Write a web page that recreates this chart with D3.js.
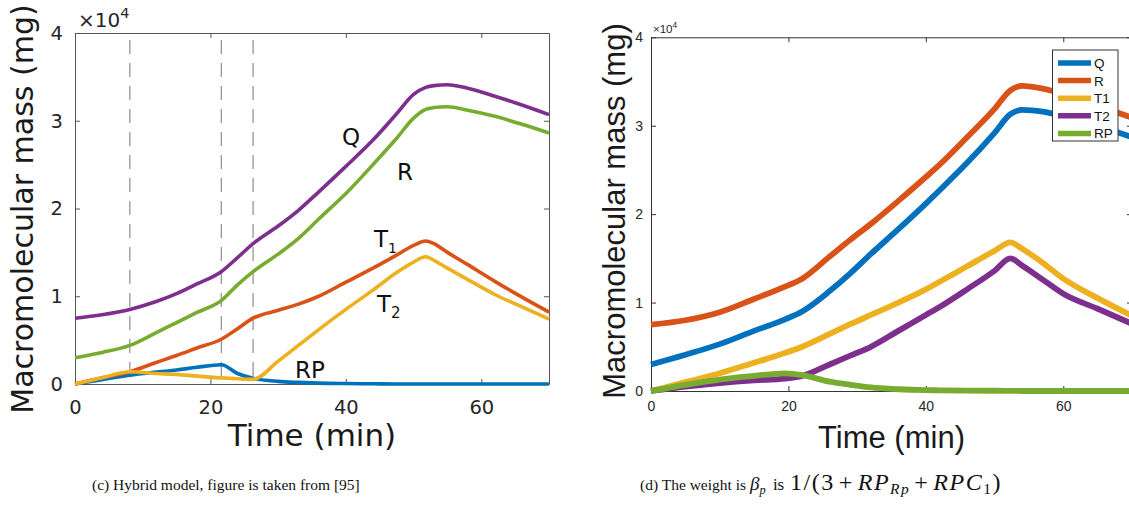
<!DOCTYPE html>
<html>
<head>
<meta charset="utf-8">
<script src="https://cdn.jsdelivr.net/npm/d3@7"></script>
<style>
  body { margin: 0; background: #fff; }
  svg { display: block; }
</style>
</head>
<body>
<svg id="chart" width="1129" height="505"></svg>
<script>
// ---- data (values in units of 1e4 mg) ----
// left panel (c): hybrid model
let leftTime = [0, 4, 8.1, 12, 15, 18, 21.6, 24, 26.3, 30, 33, 36, 40, 44, 47.5, 50, 51.8, 53, 55, 58, 62, 66, 70]
let leftQ  = [0.75, 0.79, 0.85, 0.94, 1.03, 1.14, 1.28, 1.44, 1.60, 1.80, 1.98, 2.19, 2.48, 2.78, 3.08, 3.30, 3.38, 3.40, 3.41, 3.37, 3.28, 3.18, 3.07]
let leftR  = [0.30, 0.36, 0.44, 0.585, 0.70, 0.815, 0.95, 1.13, 1.28, 1.48, 1.66, 1.88, 2.17, 2.50, 2.80, 3.03, 3.13, 3.15, 3.16, 3.12, 3.05, 2.96, 2.86]
let leftT1 = [0, 0.07, 0.14, 0.245, 0.325, 0.41, 0.51, 0.63, 0.75, 0.84, 0.91, 1.00, 1.16, 1.32, 1.47, 1.58, 1.63, 1.60, 1.50, 1.36, 1.17, 0.99, 0.82]
let leftT2 = [0, 0.07, 0.14, 0.12, 0.11, 0.09, 0.07, 0.06, 0.053, 0.26, 0.44, 0.62, 0.85, 1.07, 1.27, 1.39, 1.45, 1.41, 1.32, 1.19, 1.02, 0.88, 0.74]
let leftRP = [0, 0.05, 0.10, 0.135, 0.16, 0.19, 0.22, 0.12, 0.065, 0.03, 0.018, 0.01, 0.005, 0.002, 0, 0, 0, 0, 0, 0, 0, 0, 0]
let leftDashes = [8.1, 21.6, 26.3]

// right panel (d): weighted model
let rightTime = [0, 5, 10, 15, 19.5, 22, 26, 29, 32, 36, 40, 42, 46, 50, 52.3, 54, 57, 60, 65, 70]
let rightQ  = [0.30, 0.41, 0.53, 0.68, 0.81, 0.90, 1.13, 1.33, 1.55, 1.83, 2.12, 2.27, 2.58, 2.92, 3.13, 3.18, 3.16, 3.11, 3.00, 2.87]
let rightR  = [0.75, 0.80, 0.89, 1.04, 1.18, 1.27, 1.52, 1.71, 1.89, 2.15, 2.42, 2.56, 2.87, 3.19, 3.40, 3.45, 3.42, 3.36, 3.23, 3.09]
let rightT1 = [0, 0.10, 0.20, 0.32, 0.43, 0.50, 0.645, 0.755, 0.86, 1.00, 1.15, 1.235, 1.41, 1.585, 1.68, 1.61, 1.45, 1.27, 1.05, 0.85]
let rightT2 = [0, 0.05, 0.09, 0.12, 0.14, 0.17, 0.30, 0.40, 0.50, 0.68, 0.86, 0.95, 1.15, 1.36, 1.50, 1.42, 1.26, 1.10, 0.93, 0.76]
let rightRP = [0, 0.07, 0.13, 0.17, 0.20, 0.18, 0.105, 0.07, 0.04, 0.02, 0.01, 0.008, 0.005, 0.003, 0.002, 0, 0, 0, 0, 0]

let xTicks = [0, 20, 40, 60]
let yTicks = [0, 1, 2, 3, 4]
let legendNames = ['Q', 'R', 'T1', 'T2', 'RP']

// matlab default colours
let blue = '#0072BD', orange = '#D95319', yellow = '#EDB120', purple = '#7E2F8E', green = '#77AC30'

let svg = d3.select('#chart')

function drawPanel(p) {
  let x = d3.scaleLinear().domain([0, 70]).range([p.left, p.right])
  let y = d3.scaleLinear().domain([0, 4]).range([p.bottom, p.top])
  let g = svg.append('g')

  // box + inward ticks
  let axes = [
    [d3.axisBottom(x), `translate(0,${p.bottom})`, xTicks, true],
    [d3.axisTop(x), `translate(0,${p.top})`, xTicks, false],
    [d3.axisLeft(y), `translate(${p.left},0)`, yTicks, true],
    [d3.axisRight(y), `translate(${p.right},0)`, yTicks, false]
  ]
  axes.forEach(([ax, tr, vals, labels], i) => {
    ax.tickValues(vals).tickSizeInner(-5).tickSizeOuter(0)
      .tickPadding(i < 2 ? p.padX : p.padY)
      .tickFormat(labels ? d3.format('d') : '')
    let a = g.append('g').attr('transform', tr).call(ax)
    a.select('.domain').attr('stroke', p.axisColor)
    a.selectAll('.tick line').attr('stroke', p.axisColor)
    a.selectAll('.tick text')
      .attr('fill', '#262626')
      .style('font-family', p.font)
      .style('font-size', p.tickSize + 'px')
  })

  // dashed markers
  g.selectAll('.dash')
    .data(p.dashes || [])
    .enter().append('line')
    .attr('x1', d => x(d)).attr('x2', d => x(d))
    .attr('y1', p.top + 7).attr('y2', p.bottom)
    .attr('stroke', '#777').attr('stroke-width', 1)
    .attr('stroke-dasharray', '14,9')

  let line = d3.line()
    .x((d, i) => x(p.time[i]))
    .y(d => y(d))
    .curve(d3.curveMonotoneX)

  g.selectAll('.series')
    .data(p.series)
    .enter().append('path')
    .attr('d', d => line(d.values))
    .attr('fill', 'none')
    .attr('stroke', d => d.color)
    .attr('stroke-width', p.lineWidth)
    .attr('stroke-linejoin', 'round')

  // x10^4 multiplier
  let mult = g.append('text')
    .attr('x', p.left + p.multDx).attr('y', p.top - p.multDy)
    .attr('fill', '#262626')
    .style('font-family', p.font)
    .style('font-size', p.multSize + 'px')
  mult.append('tspan').text('\u00d710')
  mult.append('tspan').text('4')
    .attr('dy', -p.multSize * 0.45)
    .style('font-size', (p.multSize * 0.72) + 'px')

  // axis titles
  g.append('text')
    .text('Time (min)')
    .attr('x', (p.left + p.right) / 2).attr('y', p.xTitleY)
    .attr('text-anchor', 'middle')
    .attr('fill', '#1a1a1a')
    .style('font-family', p.font)
    .style('font-size', p.xTitleSize + 'px')

  g.append('text')
    .text('Macromolecular mass (mg)')
    .attr('transform', `translate(${p.yTitleX},${p.yTitleY}) rotate(-90)`)
    .attr('text-anchor', 'middle')
    .attr('fill', '#1a1a1a')
    .style('font-family', p.font)
    .style('font-size', p.titleSize + 'px')

  return { x, y, g }
}

// ---- panel (c) ----
let left = drawPanel({
  left: 75, right: 549, top: 33, bottom: 384,
  time: leftTime,
  series: [
    { values: leftRP, color: blue },
    { values: leftT1, color: orange },
    { values: leftT2, color: yellow },
    { values: leftQ, color: purple },
    { values: leftR, color: green }
  ],
  dashes: leftDashes,
  lineWidth: 3.6,
  axisColor: '#555',
  font: '"DejaVu Sans"',
  tickSize: 19.5, padX: 16, padY: 12,
  multSize: 20, multDx: 3, multDy: 6,
  titleSize: 30, xTitleSize: 31, xTitleY: 446, yTitleX: 33, yTitleY: 209
})

// curve labels
let lab = left.g.append('g')
  .attr('fill', '#111')
  .style('font-family', '"DejaVu Sans"')
  .style('font-size', '23px')
lab.append('text').attr('x', 342).attr('y', 145).text('Q')
lab.append('text').attr('x', 397).attr('y', 180).text('R')
lab.append('text').attr('x', 295).attr('y', 378).text('RP')
let t1 = lab.append('text').attr('x', 374).attr('y', 247)
t1.append('tspan').text('T')
t1.append('tspan').text('1').attr('dy', 6).style('font-size', '14px')
let t2 = lab.append('text').attr('x', 377).attr('y', 312)
t2.append('tspan').text('T')
t2.append('tspan').text('2').attr('dy', 6).style('font-size', '15px')

// ---- panel (d) ----
let rightColors = [blue, orange, yellow, purple, green]
let right = drawPanel({
  left: 651, right: 1132, top: 37.3, bottom: 391,
  time: rightTime,
  series: [rightQ, rightR, rightT1, rightT2, rightRP].map((v, i) => ({ values: v, color: rightColors[i] })),
  lineWidth: 5.8,
  axisColor: '#333',
  font: '"Liberation Sans", Arial, sans-serif',
  tickSize: 14, padX: 10, padY: 8,
  multSize: 11.5, multDx: 2, multDy: 4,
  titleSize: 31, xTitleSize: 31, xTitleY: 448, yTitleX: 625, yTitleY: 211
})

// legend
let leg = right.g.append('g')
leg.append('rect')
  .attr('x', 1052.5).attr('y', 50).attr('width', 65.5).attr('height', 91)
  .attr('fill', '#fff').attr('stroke', '#333').attr('stroke-width', 1)
let items = leg.selectAll('.item')
  .data(legendNames)
  .enter().append('g')
  .attr('transform', (d, i) => `translate(0,${63 + i * 17.6})`)
items.append('line')
  .attr('x1', 1058).attr('x2', 1091)
  .attr('stroke', (d, i) => rightColors[i])
  .attr('stroke-width', 5.5)
items.append('text')
  .attr('x', 1094).attr('y', 5)
  .text(d => d)
  .attr('fill', '#111')
  .style('font-family', '"Liberation Sans", Arial, sans-serif')
  .style('font-size', '13.5px')

// captions
let capFont = '"Liberation Serif", "Times New Roman", serif'
svg.append('text')
  .attr('x', 92).attr('y', 490)
  .text('(c) Hybrid model, figure is taken from [95]')
  .attr('fill', '#111')
  .style('font-family', capFont).style('font-size', '15.5px')

let cap = svg.append('text')
  .attr('x', 640).attr('y', 490)
  .attr('fill', '#111')
  .style('font-family', capFont).style('font-size', '15.5px')
cap.append('tspan').text('(d) The weight is ')
cap.append('tspan').text('\u03b2').style('font-style', 'italic').style('font-size', '19px')
cap.append('tspan').text('p').attr('dy', 4).style('font-style', 'italic').style('font-size', '12.5px')
cap.append('tspan').text(' is').attr('dy', -4).attr('dx', 3).style('font-size', '17px')

// math part, set larger like the reference
let math = svg.append('text')
  .attr('x', 790).attr('y', 490)
  .attr('fill', '#111')
  .style('font-family', capFont).style('font-size', '24px')
  .style('letter-spacing', '1.5px')
let sub = (txt, italic) => {
  math.append('tspan').text(txt).attr('dy', 4).style('font-size', '15.5px')
    .style('font-style', italic ? 'italic' : 'normal')
}
math.append('tspan').text('1/(3')
math.append('tspan').text('+').attr('dx', 4)
math.append('tspan').text('RP').attr('dx', 4).style('font-style', 'italic')
sub('Rp', true)
math.append('tspan').text('+').attr('dy', -4).attr('dx', 4)
math.append('tspan').text('RPC').attr('dx', 4).style('font-style', 'italic')
sub('1', false)
math.append('tspan').text(')').attr('dy', -4)
</script>
</body>
</html>
